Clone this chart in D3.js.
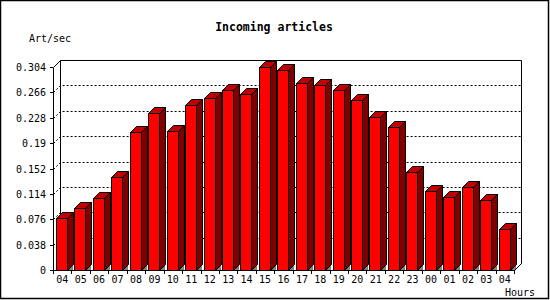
<!DOCTYPE html>
<html>
<head>
  <meta charset="utf-8">
  <script src="https://d3js.org/d3.v7.min.js"></script>
  <style>
    body { margin: 0; background: #fff; }
    text { font-family: "DejaVu Sans Mono", monospace; font-size: 10px; fill: #000; }
  </style>
</head>
<body>
<div id="chart"></div>
<script>

    // hourly incoming article rate (articles / second)
    var hours = ["04","05","06","07","08","09","10","11","12","13","14","15","16",
                 "17","18","19","20","21","22","23","00","01","02","03","04"]
    var rates = [0.0775, 0.0925, 0.1075, 0.139, 0.2065, 0.235, 0.208, 0.247, 0.2575,
                 0.270, 0.2635, 0.304, 0.300, 0.280, 0.277, 0.270, 0.2545, 0.229,
                 0.214, 0.1465, 0.118, 0.109, 0.125, 0.1045, 0.062]
    var yTicks = [0, 0.038, 0.076, 0.114, 0.152, 0.19, 0.228, 0.266, 0.304]
    var yTickLabels = ["0","0.038","0.076","0.114","0.152","0.19","0.228","0.266","0.304"]

    const width = 550,
        height = 300

    const plotLeft = 53, plotRight = 514, plotBase = 270, plotTop = 67,
        depth = 7,     // depth of the back wall
        barDepth = 6,
        barOffset = 3,
        barWidth = 11

    var svg = d3.select("#chart").append("svg")
        .attr("width", width)
        .attr("height", height)

    var xScale = d3.scaleBand()
        .domain(d3.range(hours.length))
        .range([plotLeft, plotRight])

    var yScale = d3.scaleLinear()
        .domain([0, d3.max(yTicks)])
        .range([plotBase, plotTop])

    var px = v => Math.round(v) + 0.5

    // outer frame
    svg.append("rect")
        .attr("x", 0.5).attr("y", 0.5)
        .attr("width", width - 2).attr("height", height - 2)
        .attr("fill", "none").attr("stroke", "#000").attr("stroke-width", 1.5)

    // title + axis captions
    svg.append("text")
        .attr("x", 274).attr("y", 31)
        .attr("text-anchor", "middle")
        .style("font-weight", "bold")
        .style("font-size", "11.5px")
        .text("Incoming articles")

    svg.append("text")
        .attr("x", 29).attr("y", 42)
        .text("Art/sec")

    svg.append("text")
        .attr("x", 505).attr("y", 296)
        .text("Hours")

    var g = svg.append("g")

    // back wall
    g.append("path")
        .attr("d", `M${px(plotLeft + depth)},${px(plotBase - depth)} V${px(plotTop - depth)} H${px(plotRight + depth)} V${px(plotBase - depth)}`)
        .attr("fill", "none").attr("stroke", "#000")

    // dotted grid lines on the back wall
    g.selectAll(".grid")
        .data(yTicks.filter(t => t > 0 && t < d3.max(yTicks)))
        .enter().append("path")
        .attr("class", "grid")
        .attr("d", t => `M${px(plotLeft)},${px(yScale(t))} L${px(plotLeft + depth)},${px(yScale(t) - depth)} H${px(plotRight + depth)}`)
        .attr("fill", "none").attr("stroke", "#000")
        .attr("stroke-dasharray", "2,2")

    // bars
    var bars = g.selectAll(".bar")
        .data(rates).enter()
        .append("g")
        .attr("class", "bar")

    var x0 = (d, i) => Math.round(xScale(i) + barOffset),
        x1 = (d, i) => x0(d, i) + barWidth,
        yt = d => Math.round(yScale(d))

    // shadow on the floor
    bars.append("path")
        .attr("d", (d, i) => `M${x1(d, i)},${plotBase} L${x1(d, i) + barDepth},${plotBase - barDepth} V${plotBase} Z`)
        .attr("fill", "#808080").attr("stroke", "none")

    // side face
    bars.append("path")
        .attr("d", (d, i) => `M${x1(d, i) + 0.5},${yt(d) + 0.5} L${x1(d, i) + barDepth + 0.5},${yt(d) - barDepth + 0.5} V${plotBase - barDepth + 0.5} L${x1(d, i) + 0.5},${plotBase + 0.5} Z`)
        .attr("fill", "#800000").attr("stroke", "#000")

    // top face
    bars.append("path")
        .attr("d", (d, i) => `M${x0(d, i) + 0.5},${yt(d) + 0.5} L${x0(d, i) + barDepth + 0.5},${yt(d) - barDepth + 0.5} H${x1(d, i) + barDepth + 0.5} L${x1(d, i) + 0.5},${yt(d) + 0.5} Z`)
        .attr("fill", "#c00000").attr("stroke", "#000")

    // front face
    bars.append("rect")
        .attr("x", (d, i) => x0(d, i) + 0.5)
        .attr("y", d => yt(d) + 0.5)
        .attr("width", barWidth)
        .attr("height", d => plotBase - yt(d))
        .attr("fill", "#ff0000").attr("stroke", "#000")

    // front axes
    g.append("path")
        .attr("d", `M${px(plotLeft + depth)},${px(plotTop - depth)} L${px(plotLeft)},${px(plotTop)} V${px(plotBase)} H${px(plotRight)} L${px(plotRight + depth)},${px(plotBase - depth)}`)
        .attr("fill", "none").attr("stroke", "#000")

    // y ticks + labels
    var yAxis = g.selectAll(".ytick")
        .data(yTicks).enter()
        .append("g")
        .attr("class", "ytick")
        .attr("transform", d => `translate(0,${px(yScale(d))})`)

    yAxis.append("line")
        .attr("x1", plotLeft - 3).attr("x2", plotLeft)
        .attr("stroke", "#000")

    yAxis.append("text")
        .attr("x", 46).attr("dy", "0.35em")
        .attr("text-anchor", "end")
        .text((d, i) => yTickLabels[i])

    // x ticks at band edges
    g.selectAll(".xtick")
        .data(d3.range(hours.length + 1)).enter()
        .append("line")
        .attr("class", "xtick")
        .attr("x1", i => px(plotLeft + i * xScale.step()))
        .attr("x2", i => px(plotLeft + i * xScale.step()))
        .attr("y1", plotBase).attr("y2", plotBase + 4)
        .attr("stroke", "#000")

    g.selectAll(".xlabel")
        .data(hours).enter()
        .append("text")
        .attr("class", "xlabel")
        .attr("x", (d, i) => xScale(i) + xScale.bandwidth() / 2)
        .attr("y", 283)
        .attr("text-anchor", "middle")
        .text(d => d)

</script>
</body>
</html>
